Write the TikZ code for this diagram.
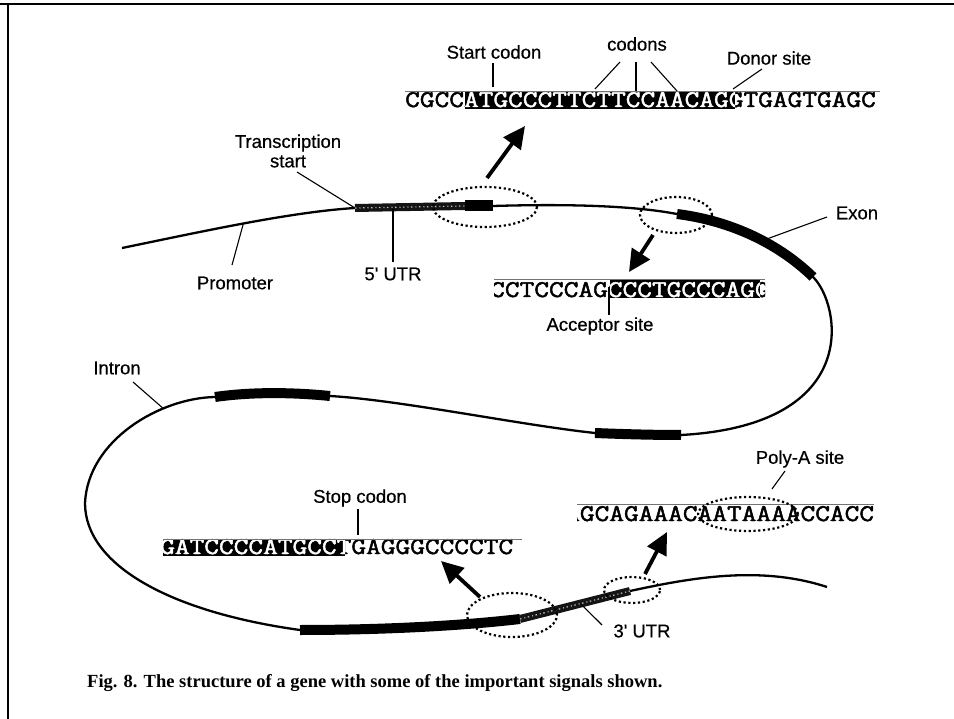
\documentclass[tikz,border=0pt]{standalone}
\usepackage{fontspec}
\setmainfont{Liberation Sans}
\newfontfamily\lblfont{Liberation Sans}[FakeBold=0.5]
\newfontfamily\seqfont{Latin Modern Mono}[FakeStretch=1.19,FakeBold=2]
\newfontfamily\capfont{Liberation Serif}
\usetikzlibrary{arrows.meta,shapes.geometric}

\begin{document}
\begin{tikzpicture}[x=1pt,y=-1pt,
  lbl/.style={font=\lblfont\fontsize{18.5}{19.5}\selectfont, inner sep=0pt, align=center},
  leader/.style={line width=1.1pt},
  gene/.style={line width=2.3pt},
  exonseg/.style={line width=10pt},
  utrseg/.style={line width=8pt, black!92},
  utrtex/.style={white!75!black, line width=1.2pt, dash pattern=on 1.5pt off 3pt on 1pt off 2.5pt},
  ring/.style={ellipse, draw, line width=2.2pt, dash pattern=on 2.2pt off 2.6pt, inner sep=0pt},
  bigarrow/.style={line width=3.8pt, -{Triangle[length=22pt,width=21pt]}},
  seq/.style={font=\seqfont\fontsize{24}{24}\selectfont, inner sep=0pt, anchor=base west},
  rule/.style={black!55, line width=0.8pt},
]
\useasboundingbox (0,0) rectangle (954,719);

% page frame (top and left edges)
\draw[line width=2.8pt] (0,4) -- (954,4);
\draw[line width=2.6pt] (8,4) -- (8,719);

% ---------- gene backbone ----------
\coordinate (g0) at (122,248);
\coordinate (g1) at (355,208);
\coordinate (g2) at (465,206);
\coordinate (g3) at (493,206);
\coordinate (g4) at (677,214);
\coordinate (g5) at (813,277);
\coordinate (g7) at (681,435);
\coordinate (g8) at (595,433);
\coordinate (g9) at (330,396);
\coordinate (g10) at (215,397);
\coordinate (g11) at (300,630);
\coordinate (g12) at (520,619);
\coordinate (g13) at (630,591);
\coordinate (g14) at (827,587);

\draw[gene]
  (g0) .. controls (200,232) and (290,212) .. coordinate[pos=0.5] (promPt) (g1)
  -- (g2) -- (g3)
  .. controls (560,204) and (630,205) .. (g4)
  .. controls (725,220) and (775,240) .. coordinate[pos=0.6] (exonPt) (g5)
  .. controls (840,303) and (865,425) .. (g7)
  .. controls (650,435) and (620,434) .. (g8)
  .. controls (520,425) and (400,400) .. (g9)
  .. controls (290,392) and (250,392) .. (g10)
  .. controls (160,398) and (88,440) .. coordinate[pos=0.3] (intronPt) (85,503)
  .. controls (85,565) and (170,612) .. (g11)
  .. controls (380,630) and (460,626) .. (g12)
  -- coordinate[pos=0.55] (utr3Pt) (g13)
  .. controls (690,578) and (760,565) .. (g14);

% exons
\draw[exonseg] (g4) .. controls (725,220) and (775,240) .. (g5);
\draw[exonseg] (g7) .. controls (650,435) and (620,434) .. (g8);
\draw[exonseg] (g9) .. controls (290,392) and (250,392) .. (g10);
\draw[exonseg] (g11) .. controls (380,630) and (460,626) .. (g12);
\fill (465,200) rectangle (493,211);

% untranslated regions
\draw[utrseg] (g1) -- (g2);
\draw[utrtex] (g1) -- (g2);
\draw[utrseg] (g12) -- (g13);
\draw[utrtex] (g12) -- (g13);

% ---------- dotted rings on the gene ----------
\node[ring, minimum width=104pt, minimum height=40pt] (ringStart) at (485,207) {};
\node[ring, minimum width=72pt, minimum height=36pt] (ringAcc) at (676,215) {};
\node[ring, minimum width=90pt, minimum height=44pt] (ringStop) at (512,615) {};
\node[ring, minimum width=56pt, minimum height=26pt] (ringPolyA) at (632,590) {};

% ---------- sequences ----------
% start codon / donor site
\begin{scope}
  \clip (405,88) rectangle (880,114);
  \fill (465,91) rectangle (735,109);
  \node[seq] (seqTop) at (405,107) {CGCCATGCCCTTCTTCCAACAGGTGAGTGAGC};
  \begin{scope}
    \clip (465,91) rectangle (735,109);
    \node[seq, white] (seqTopHi) at (405,107) {CGCCATGCCCTTCTTCCAACAGGTGAGTGAGC};
  \end{scope}
\end{scope}
\draw[rule] (405,91) -- (880,91);

% acceptor site
\begin{scope}
  \clip (494,276) rectangle (765,303);
  \fill (610,279) rectangle (760,298);
  \node[seq] (seqAcc) at (490,297) {CCTCCCAGCCCTGCCCAGG};
  \begin{scope}
    \clip (610,279) rectangle (760,298);
    \node[seq, white] (seqAccHi) at (490,297) {CCTCCCAGCCCTGCCCAGG};
  \end{scope}
\end{scope}
\draw[rule] (494,279) -- (765,279);

% stop codon
\begin{scope}
  \clip (163,536) rectangle (522,560);
  \fill (163,539) rectangle (345,556);
  \node[seq] (seqStop) at (160,554) {GATCCCCATGCCTGAGGGCCCCTC};
  \begin{scope}
    \clip (163,539) rectangle (345,556);
    \node[seq, white] (seqStopHi) at (160,554) {GATCCCCATGCCTGAGGGCCCCTC};
  \end{scope}
\end{scope}
\draw[rule] (163,539) -- (522,539);

% poly-A site
\begin{scope}
  \clip (577,500) rectangle (874,526);
  \node[seq] (seqPolyA) at (565,521) {AGCAGAAACAATAAAACCACC};
\end{scope}
\draw[rule] (577,504) -- (874,504);
\node[ring, minimum width=100pt, minimum height=34pt] (ringSig) at (748,514) {};

% ---------- arrows from rings to sequences ----------
\coordinate (a1s) at (487,178); \coordinate (a1e) at (525,126);
\coordinate (a2s) at (653,235); \coordinate (a2e) at (629,272);
\coordinate (a3s) at (480,597); \coordinate (a3e) at (441,561);
\coordinate (a4s) at (645,574); \coordinate (a4e) at (667,532);
\draw[bigarrow] (a1s) -- (a1e);
\draw[bigarrow] (a2s) -- (a2e);
\draw[bigarrow] (a3s) -- (a3e);
\draw[bigarrow] (a4s) -- (a4e);

% ---------- labels ----------
\node[lbl] (lStart) at (494,52) {Start codon};
\draw[leader] (493,63) -- (493,87);
\node[lbl] (lCodons) at (637,44) {codons};
\draw[leader] (620,62) -- (595,89);
\draw[leader] (636,62) -- (636,91);
\draw[leader] (651,62) -- (677,91);
\node[lbl] (lDonor) at (769,58) {Donor site};
\draw[leader] (762,69) -- (733,89);

\node[lbl] (lTss) at (288,151) {Transcription\\start};
\draw[leader] (297,172) -- (g1);
\node[lbl] (lUtr5) at (393,274) {5' UTR};
\draw[leader] (393,209) -- (393,262);
\node[lbl] (lProm) at (235,283) {Promoter};
\draw[leader] (promPt) -- (232,265);
\node[lbl] (lExon) at (857,213) {Exon};
\draw[leader] (827,217) -- (exonPt);
\node[lbl] (lAcc) at (600,326) {Acceptor site};
\draw[leader] (609,287) -- (609,315);
\node[lbl] (lIntron) at (117,368) {Intron};
\draw[leader] (133,382) -- (intronPt);
\node[lbl] (lStop) at (360,498) {Stop codon};
\draw[leader] (358,509) -- (358,535);
\node[lbl] (lPolyA) at (800,459) {Poly-A site};
\draw[leader] (785,471) -- (772,489);
\node[lbl] (lUtr3) at (642,631) {3' UTR};
\draw[leader] (utr3Pt) -- (602,625);

% caption
\node[inner sep=0pt, anchor=base west, font=\capfont\bfseries\fontsize{18.5}{20}\selectfont] (caption) at (87,687)
  {Fig. 8. The structure of a gene with some of the important signals shown.};
\end{tikzpicture}
\end{document}
